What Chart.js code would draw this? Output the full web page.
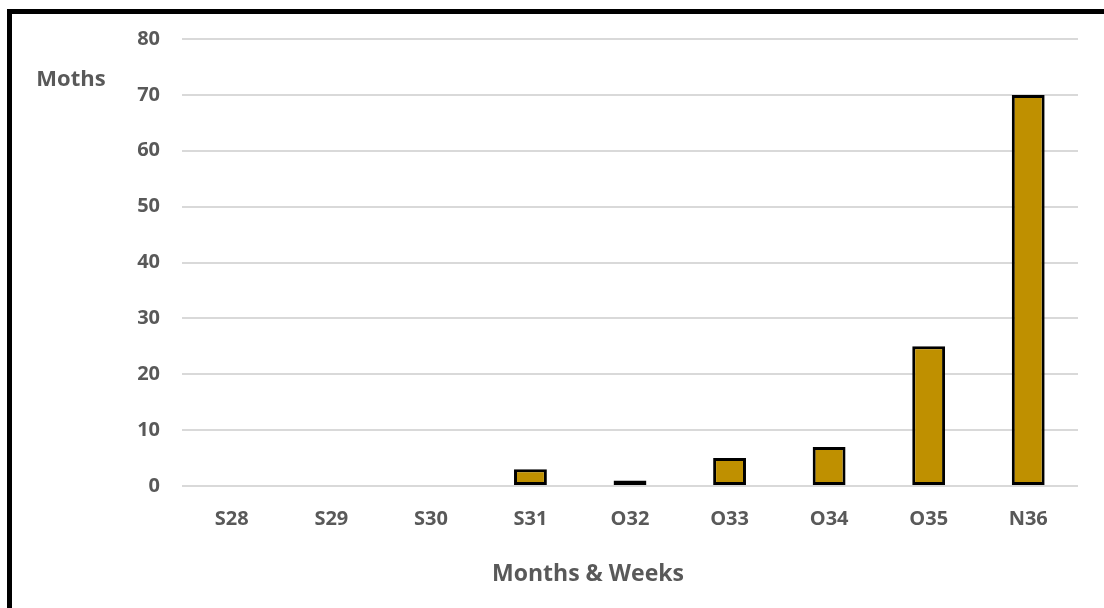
<!DOCTYPE html>
<html>
<head>
<meta charset="utf-8">
<script src="https://cdn.jsdelivr.net/npm/chart.js@4"></script>
<style>
  html, body { margin: 0; padding: 0; background: #fff; }
  #wrap { position: relative; width: 1104px; height: 608px; overflow: hidden; }
  #frame { position: absolute; left: 7px; top: 9px; width: 1200px; height: 700px;
           border-left: 5px solid #000; border-top: 5px solid #000; pointer-events: none; }
  canvas { position: absolute; left: 0; top: 0; }
</style>
</head>
<body>
<div id="wrap">
  <canvas id="mothChart" width="1104" height="608"></canvas>
  <div id="frame"></div>
</div>
<script>
const weeks = ['S28', 'S29', 'S30', 'S31', 'O32', 'O33', 'O34', 'O35', 'N36'];
const moths = [0, 0, 0, 3, 1, 5, 7, 25, 70];
const yTicks = [0, 10, 20, 30, 40, 50, 60, 70, 80];

const FONT = '"Open Sans", "Liberation Sans", sans-serif';
const GREY = '#595959';

// horizontal axis titles like the Excel original
const titles = {
    id: 'titles',
    afterDraw(chart) {
        const c = chart.ctx;
        c.save();
        c.fillStyle = GREY;
        c.textAlign = 'center';
        c.textBaseline = 'middle';
        c.font = 'bold 22px ' + FONT;
        c.fillText('Moths', 71, 80);
        c.font = 'bold 23px ' + FONT;
        c.fillText('Months & Weeks', 588, 574);
        c.restore();
    }
};

const ctx = document.getElementById('mothChart').getContext('2d');
const mothChart = new Chart(ctx, {
    type: 'bar',
    data: {
        labels: weeks,
        datasets: [
            {
                label: 'Moths',
                data: moths,
                backgroundColor: '#BF9000',
                borderColor: '#000',
                borderWidth: 3,
                borderSkipped: false,
                categoryPercentage: 1,
                barPercentage: 0.33
            }
        ]
    },
    options: {
        responsive: false,
        animation: false,
        layout: { padding: { top: 39, right: 26, bottom: 0, left: 0 } },
        plugins: {
            legend: { display: false },
            tooltip: { enabled: false }
        },
        scales: {
            x: {
                grid: { display: false },
                border: { display: false },
                ticks: { color: GREY, font: { family: FONT, size: 20, weight: 'bold' }, padding: 13 },
                afterFit(scale) { scale.height = 122; }
            },
            y: {
                min: 0,
                max: 80,
                afterBuildTicks(scale) { scale.ticks = yTicks.map(v => ({ value: v })); },
                grid: { color: '#d9d9d9', lineWidth: 2, drawTicks: false },
                border: { display: false },
                ticks: { color: GREY, font: { family: FONT, size: 20, weight: 'bold' }, padding: 22 },
                afterFit(scale) { scale.width = 182; }
            }
        }
    },
    plugins: [titles]
});
</script>
</body>
</html>
